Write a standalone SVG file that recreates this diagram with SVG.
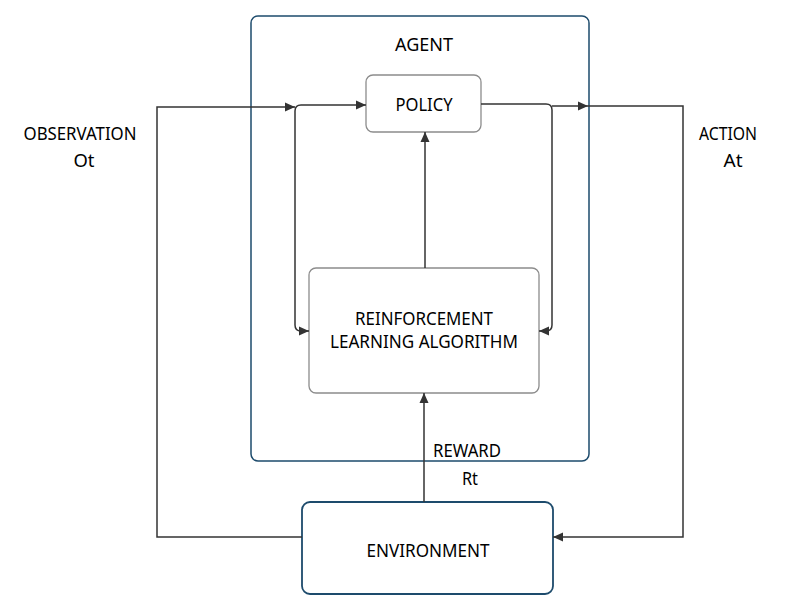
<svg xmlns="http://www.w3.org/2000/svg" width="791" height="612" viewBox="0 0 791 612">
<style>
.lbl{font-family:"Noto Sans","DejaVu Sans",sans-serif;font-size:18px;fill:#000;text-anchor:middle}
.outer{fill:none;stroke:#1d4b6c;stroke-width:1.5}
.inner{fill:#fff;stroke:#8c8c8c;stroke-width:1.3}
.env{fill:#fff;stroke:#1d4b6c;stroke-width:1.8}
.conn{fill:none;stroke:#333;stroke-width:1.5}
</style>
<defs>
<marker id="arr" viewBox="0 0 10 10" refX="10" refY="5" markerWidth="10" markerHeight="10" markerUnits="userSpaceOnUse" orient="auto-start-reverse">
<path d="M0,0.5 L10,5 L0,9.5 Z" fill="#333"/>
</marker>
</defs>
<rect width="791" height="612" fill="#fff"/>
<g id="agent">
<rect class="outer" x="251" y="16" width="338" height="445" rx="7"/>
<text class="lbl" x="424" y="51" textLength="58" lengthAdjust="spacingAndGlyphs">AGENT</text>
</g>
<g id="policy">
<rect class="inner" x="366" y="75" width="115" height="57" rx="7"/>
<text class="lbl" x="424" y="111" textLength="57" lengthAdjust="spacingAndGlyphs">POLICY</text>
</g>
<g id="rl">
<rect class="inner" x="309" y="268" width="230" height="125" rx="7"/>
<text class="lbl" x="424" y="325" textLength="138" lengthAdjust="spacingAndGlyphs">REINFORCEMENT</text>
<text class="lbl" x="424" y="348" textLength="188" lengthAdjust="spacingAndGlyphs">LEARNING ALGORITHM</text>
</g>
<g id="environment">
<rect class="env" x="302" y="502" width="251" height="92" rx="8"/>
<text class="lbl" x="428" y="557" textLength="123" lengthAdjust="spacingAndGlyphs">ENVIRONMENT</text>
</g>
<g id="labels">
<text class="lbl" x="80" y="140" textLength="113" lengthAdjust="spacingAndGlyphs">OBSERVATION</text>
<text class="lbl" x="84" y="167" textLength="21" lengthAdjust="spacingAndGlyphs">Ot</text>
<text class="lbl" x="728" y="140" textLength="58" lengthAdjust="spacingAndGlyphs">ACTION</text>
<text class="lbl" x="733" y="167" textLength="19" lengthAdjust="spacingAndGlyphs">At</text>
<text class="lbl" x="467" y="457" textLength="68" lengthAdjust="spacingAndGlyphs">REWARD</text>
<text class="lbl" x="470" y="485" textLength="16" lengthAdjust="spacingAndGlyphs">Rt</text>
</g>
<g id="connectors">
<path class="conn" d="M302 537 L157 537 L157 107 L295 107" marker-end="url(#arr)"/>
<path class="conn" d="M309 331 L301 331 Q295 331 295 325 L295 111 Q295 105 301 105 L366 105" marker-start="url(#arr)" marker-end="url(#arr)"/>
<path class="conn" d="M481 104 L546 104 Q552 104 552 110 L552 325 Q552 331 546 331 L539 331" marker-end="url(#arr)"/>
<path class="conn" d="M552 106 L588 106" marker-end="url(#arr)"/>
<path class="conn" d="M588 106 L683 106 L683 537 L553 537" marker-end="url(#arr)"/>
<path class="conn" d="M425 268 L425 132" marker-end="url(#arr)"/>
<path class="conn" d="M424 502 L424 393" marker-end="url(#arr)"/>
</g>
</svg>
